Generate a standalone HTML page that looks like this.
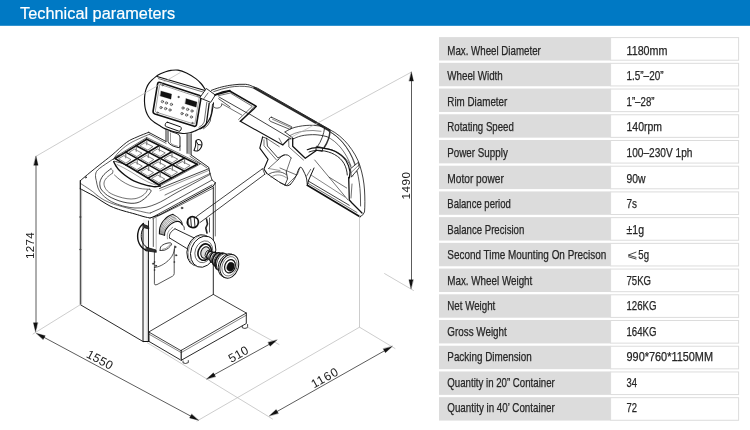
<!DOCTYPE html>
<html><head><meta charset="utf-8"><title>Technical parameters</title>
<style>
html,body{margin:0;padding:0;background:#fff;}
body{width:750px;height:430px;overflow:hidden;font-family:"Liberation Sans",sans-serif;}
svg{display:block;will-change:transform;}
text{font-family:"Liberation Sans",sans-serif;}
</style></head><body>
<svg width="750" height="430" viewBox="0 0 750 430">
<rect x="0" y="0" width="750" height="430" fill="#ffffff"/>
<rect x="0" y="0" width="750" height="25.8" fill="#0079c4"/>
<text x="20.1" y="19.1" font-size="16.6" fill="#ffffff" stroke="#ffffff" stroke-width="0.2" textLength="155" lengthAdjust="spacingAndGlyphs">Technical parameters</text>

<g id="table">
<rect x="439" y="37.10" width="171.6" height="23.4" fill="#dcdcdc"/>
<rect x="610.6" y="37.60" width="128" height="22.6" fill="#ffffff" stroke="#dcdcdc" stroke-width="1"/>
<text x="447.3" y="55" font-size="12.4" fill="#262626" stroke="#262626" stroke-width="0.25" textLength="93.5" lengthAdjust="spacingAndGlyphs">Max. Wheel Diameter</text>
<text x="626.5" y="55" font-size="12.4" fill="#262626" stroke="#262626" stroke-width="0.25" textLength="41" lengthAdjust="spacingAndGlyphs">1180mm</text>
<rect x="439" y="62.82" width="171.6" height="23.4" fill="#dcdcdc"/>
<rect x="610.6" y="63.32" width="128" height="22.6" fill="#ffffff" stroke="#dcdcdc" stroke-width="1"/>
<text x="447.3" y="80" font-size="12.4" fill="#262626" stroke="#262626" stroke-width="0.25" textLength="55.5" lengthAdjust="spacingAndGlyphs">Wheel Width</text>
<text x="626.5" y="80" font-size="12.4" fill="#262626" stroke="#262626" stroke-width="0.25" textLength="37" lengthAdjust="spacingAndGlyphs">1.5”–20”</text>
<rect x="439" y="88.54" width="171.6" height="23.4" fill="#dcdcdc"/>
<rect x="610.6" y="89.04" width="128" height="22.6" fill="#ffffff" stroke="#dcdcdc" stroke-width="1"/>
<text x="447.3" y="106" font-size="12.4" fill="#262626" stroke="#262626" stroke-width="0.25" textLength="60" lengthAdjust="spacingAndGlyphs">Rim Diameter</text>
<text x="626.5" y="106" font-size="12.4" fill="#262626" stroke="#262626" stroke-width="0.25" textLength="28" lengthAdjust="spacingAndGlyphs">1”–28”</text>
<rect x="439" y="114.26" width="171.6" height="23.4" fill="#dcdcdc"/>
<rect x="610.6" y="114.76" width="128" height="22.6" fill="#ffffff" stroke="#dcdcdc" stroke-width="1"/>
<text x="447.3" y="131" font-size="12.4" fill="#262626" stroke="#262626" stroke-width="0.25" textLength="66.5" lengthAdjust="spacingAndGlyphs">Rotating Speed</text>
<text x="626.5" y="131" font-size="12.4" fill="#262626" stroke="#262626" stroke-width="0.25" textLength="35.5" lengthAdjust="spacingAndGlyphs">140rpm</text>
<rect x="439" y="139.98" width="171.6" height="23.4" fill="#dcdcdc"/>
<rect x="610.6" y="140.48" width="128" height="22.6" fill="#ffffff" stroke="#dcdcdc" stroke-width="1"/>
<text x="447.3" y="157" font-size="12.4" fill="#262626" stroke="#262626" stroke-width="0.25" textLength="60.5" lengthAdjust="spacingAndGlyphs">Power Supply</text>
<text x="626.5" y="157" font-size="12.4" fill="#262626" stroke="#262626" stroke-width="0.25" textLength="66" lengthAdjust="spacingAndGlyphs">100–230V 1ph</text>
<rect x="439" y="165.70" width="171.6" height="23.4" fill="#dcdcdc"/>
<rect x="610.6" y="166.20" width="128" height="22.6" fill="#ffffff" stroke="#dcdcdc" stroke-width="1"/>
<text x="447.3" y="183" font-size="12.4" fill="#262626" stroke="#262626" stroke-width="0.25" textLength="56.5" lengthAdjust="spacingAndGlyphs">Motor power</text>
<text x="626.5" y="183" font-size="12.4" fill="#262626" stroke="#262626" stroke-width="0.25" textLength="19" lengthAdjust="spacingAndGlyphs">90w</text>
<rect x="439" y="191.42" width="171.6" height="23.4" fill="#dcdcdc"/>
<rect x="610.6" y="191.92" width="128" height="22.6" fill="#ffffff" stroke="#dcdcdc" stroke-width="1"/>
<text x="447.3" y="208" font-size="12.4" fill="#262626" stroke="#262626" stroke-width="0.25" textLength="63.5" lengthAdjust="spacingAndGlyphs">Balance period</text>
<text x="626.5" y="208" font-size="12.4" fill="#262626" stroke="#262626" stroke-width="0.25" textLength="10.5" lengthAdjust="spacingAndGlyphs">7s</text>
<rect x="439" y="217.14" width="171.6" height="23.4" fill="#dcdcdc"/>
<rect x="610.6" y="217.64" width="128" height="22.6" fill="#ffffff" stroke="#dcdcdc" stroke-width="1"/>
<text x="447.3" y="234" font-size="12.4" fill="#262626" stroke="#262626" stroke-width="0.25" textLength="77" lengthAdjust="spacingAndGlyphs">Balance Precision</text>
<text x="626.5" y="234" font-size="12.4" fill="#262626" stroke="#262626" stroke-width="0.25" textLength="17.5" lengthAdjust="spacingAndGlyphs">±1g</text>
<rect x="439" y="242.86" width="171.6" height="23.4" fill="#dcdcdc"/>
<rect x="610.6" y="243.36" width="128" height="22.6" fill="#ffffff" stroke="#dcdcdc" stroke-width="1"/>
<text x="447.3" y="259" font-size="12.4" fill="#262626" stroke="#262626" stroke-width="0.25" textLength="159" lengthAdjust="spacingAndGlyphs">Second Time Mounting On Precison</text>
<path d="M636.4 252.00 L628.2 255.10 L636.4 257.50 M628.2 256.70 L636.4 259.10" fill="none" stroke="#333" stroke-width="0.9"/>
<text x="638.3" y="259" font-size="12.4" fill="#262626" stroke="#262626" stroke-width="0.25" textLength="10.7" lengthAdjust="spacingAndGlyphs">5g</text>
<rect x="439" y="268.58" width="171.6" height="23.4" fill="#dcdcdc"/>
<rect x="610.6" y="269.08" width="128" height="22.6" fill="#ffffff" stroke="#dcdcdc" stroke-width="1"/>
<text x="447.3" y="285" font-size="12.4" fill="#262626" stroke="#262626" stroke-width="0.25" textLength="85" lengthAdjust="spacingAndGlyphs">Max. Wheel Weight</text>
<text x="626.5" y="285" font-size="12.4" fill="#262626" stroke="#262626" stroke-width="0.25" textLength="24.5" lengthAdjust="spacingAndGlyphs">75KG</text>
<rect x="439" y="294.30" width="171.6" height="23.4" fill="#dcdcdc"/>
<rect x="610.6" y="294.80" width="128" height="22.6" fill="#ffffff" stroke="#dcdcdc" stroke-width="1"/>
<text x="447.3" y="310" font-size="12.4" fill="#262626" stroke="#262626" stroke-width="0.25" textLength="48" lengthAdjust="spacingAndGlyphs">Net Weight</text>
<text x="626.5" y="310" font-size="12.4" fill="#262626" stroke="#262626" stroke-width="0.25" textLength="30" lengthAdjust="spacingAndGlyphs">126KG</text>
<rect x="439" y="320.02" width="171.6" height="23.4" fill="#dcdcdc"/>
<rect x="610.6" y="320.52" width="128" height="22.6" fill="#ffffff" stroke="#dcdcdc" stroke-width="1"/>
<text x="447.3" y="336" font-size="12.4" fill="#262626" stroke="#262626" stroke-width="0.25" textLength="59.5" lengthAdjust="spacingAndGlyphs">Gross Weight</text>
<text x="626.5" y="336" font-size="12.4" fill="#262626" stroke="#262626" stroke-width="0.25" textLength="30" lengthAdjust="spacingAndGlyphs">164KG</text>
<rect x="439" y="345.74" width="171.6" height="23.4" fill="#dcdcdc"/>
<rect x="610.6" y="346.24" width="128" height="22.6" fill="#ffffff" stroke="#dcdcdc" stroke-width="1"/>
<text x="447.3" y="361" font-size="12.4" fill="#262626" stroke="#262626" stroke-width="0.25" textLength="84.5" lengthAdjust="spacingAndGlyphs">Packing Dimension</text>
<text x="626.5" y="361" font-size="12.4" fill="#262626" stroke="#262626" stroke-width="0.25" textLength="86.5" lengthAdjust="spacingAndGlyphs">990*760*1150MM</text>
<rect x="439" y="371.46" width="171.6" height="23.4" fill="#dcdcdc"/>
<rect x="610.6" y="371.96" width="128" height="22.6" fill="#ffffff" stroke="#dcdcdc" stroke-width="1"/>
<text x="447.3" y="387" font-size="12.4" fill="#262626" stroke="#262626" stroke-width="0.25" textLength="107.5" lengthAdjust="spacingAndGlyphs">Quantity in 20” Container</text>
<text x="626.5" y="387" font-size="12.4" fill="#262626" stroke="#262626" stroke-width="0.25" textLength="10.5" lengthAdjust="spacingAndGlyphs">34</text>
<rect x="439" y="397.18" width="171.6" height="23.4" fill="#dcdcdc"/>
<rect x="610.6" y="397.68" width="128" height="22.6" fill="#ffffff" stroke="#dcdcdc" stroke-width="1"/>
<text x="447.3" y="412" font-size="12.4" fill="#262626" stroke="#262626" stroke-width="0.25" textLength="107.5" lengthAdjust="spacingAndGlyphs">Quantity in 40’ Container</text>
<text x="626.5" y="412" font-size="12.4" fill="#262626" stroke="#262626" stroke-width="0.25" textLength="10.5" lengthAdjust="spacingAndGlyphs">72</text>
</g>
<g id="drawing" fill="none" stroke-linejoin="round" stroke-linecap="round">
<path d="M205.1 89.2 C204.42 88.25 202.55 85.27 201 83.5 C199.45 81.73 198.22 80.35 195.8 78.6 C193.38 76.85 189.47 74.42 186.5 73 C183.53 71.58 180.58 70.53 178 70.1 C175.42 69.67 173.07 70.13 171 70.4 C168.93 70.67 167.35 71.13 165.6 71.7 C163.85 72.27 162.12 72.98 160.5 73.8 C158.88 74.62 157.35 75.53 155.9 76.6 C154.45 77.67 153.02 78.98 151.8 80.2 C150.58 81.42 149.48 82.6 148.6 83.9 C147.72 85.2 147.05 86.65 146.5 88 C145.95 89.35 145.62 90.5 145.3 92 C144.98 93.5 144.73 95.37 144.6 97 C144.47 98.63 144.43 100.13 144.5 101.8 C144.57 103.47 144.73 105.38 145 107 C145.27 108.62 145.57 110 146.1 111.5 C146.63 113 147.38 114.63 148.2 116 C149.02 117.37 149.87 118.57 151 119.7 C152.13 120.83 153.65 121.87 155 122.8 C156.35 123.73 157.47 124.33 159.1 125.3 C160.73 126.27 162.48 127.57 164.8 128.6 C167.12 129.63 170 130.68 173 131.5 C176 132.32 179.97 133.28 182.8 133.5 C185.63 133.72 187.83 133.28 190 132.8 C192.17 132.32 193.97 131.4 195.8 130.6 C197.63 129.8 199.45 128.92 201 128 C202.55 127.08 203.85 126.27 205.1 125.1 C206.35 123.93 207.42 122.85 208.5 121 C209.58 119.15 210.77 117.03 211.6 114 C212.43 110.97 213.18 104.67 213.5 102.8" stroke-width="1.15" fill="#fff" stroke="#111" />
<path d="M157 76.5 L205 90.5" stroke-width="1.3" fill="none" stroke="#111" />
<path d="M158.5 78.6 L203 92" stroke-width="0.6" fill="none" stroke="#111" />
<path d="M160 82.4 L199.5 95.5 Q201.3 96.1 201 98 L196.5 124.5 Q196 127 193.5 126.1 L155 114 Q152.7 113.2 153.1 111 L157.6 83.8 Q158 81.8 160 82.4 Z" stroke-width="1.6" fill="none" stroke="#111" />
<path d="M160.8 84.6 L198 97 Q199.2 97.4 199 98.6 L195 123 Q194.8 124.3 193.5 123.9 L156.3 112.2 Q155.2 111.8 155.4 110.7 L159.5 85.5 Q159.7 84.2 160.8 84.6 Z" stroke-width="0.5" fill="none" stroke="#444" />
<path d="M161 91 L171.6 94 L171 99.2 L160.2 96 Z" stroke-width="0.2" fill="#111" stroke="#111" />
<path d="M186 98.6 L197 102 L196.2 107.2 L185.2 103.8 Z" stroke-width="0.2" fill="#111" stroke="#111" />
<circle cx="178.6" cy="97" r="0.9" stroke-width="0.2" fill="#555" stroke="#111"/>
<circle cx="162.4" cy="101.6" r="1.2" stroke-width="0.6" fill="#ccc" stroke="#333"/>
<circle cx="166.4" cy="103" r="1.2" stroke-width="0.6" fill="#ccc" stroke="#333"/>
<circle cx="171.4" cy="104.4" r="1.2" stroke-width="0.6" fill="#ccc" stroke="#333"/>
<circle cx="161" cy="107.6" r="1.2" stroke-width="0.6" fill="#ccc" stroke="#333"/>
<circle cx="165.6" cy="108.6" r="1.2" stroke-width="0.6" fill="#ccc" stroke="#333"/>
<circle cx="170" cy="110" r="1.2" stroke-width="0.6" fill="#ccc" stroke="#333"/>
<circle cx="183" cy="108" r="1.2" stroke-width="0.6" fill="#ccc" stroke="#333"/>
<circle cx="187.6" cy="109.4" r="1.2" stroke-width="0.6" fill="#ccc" stroke="#333"/>
<circle cx="192" cy="111" r="1.2" stroke-width="0.6" fill="#ccc" stroke="#333"/>
<circle cx="182" cy="113.6" r="1.2" stroke-width="0.6" fill="#ccc" stroke="#333"/>
<circle cx="186.6" cy="115" r="1.2" stroke-width="0.6" fill="#ccc" stroke="#333"/>
<circle cx="191.4" cy="117" r="1.2" stroke-width="0.6" fill="#ccc" stroke="#333"/>
<circle cx="162.6" cy="85.2" r="0.7" stroke-width="0.5" fill="#aaa" stroke="#333"/>
<circle cx="198" cy="95.8" r="0.7" stroke-width="0.5" fill="#aaa" stroke="#333"/>
<circle cx="157.6" cy="112.6" r="0.7" stroke-width="0.5" fill="#aaa" stroke="#333"/>
<circle cx="192.4" cy="123" r="0.7" stroke-width="0.5" fill="#aaa" stroke="#333"/>
<rect x="165" y="124.4" width="16.5" height="4.6" rx="1.6" transform="rotate(19.5 173.2 126.7)" stroke-width="0.9" stroke="#111" fill="none"/>
<g id="arm" fill="none" stroke="#111" stroke-width="0.9" stroke-linejoin="round" stroke-linecap="round">
<path d="M209.2 103.2 L206.5 123 Q205 127 200 128.8" stroke-width="1.3"/>
<path d="M206.8 102.3 L204.2 122 Q203 125.5 199 127.3" stroke-width="0.6"/>
<path d="M212.5 104.4 L210.3 121 Q208.8 125.5 203.5 128.8" stroke-width="0.7"/>
<path d="M199.9 97.5 L206.4 88.5 L215.3 95 L210.9 102 Z" fill="#fff" stroke-width="0.9"/>
<path d="M203.5 99.1 L208 93" stroke-width="0.6"/>
<path d="M218.6 98.7 L230 106.9 M213.7 106.9 Q215 108.3 217 108.2 L219.4 107.7 Q222 106.5 221.9 104.4" stroke-width="0.7"/>
<path d="M211.3 90.4 C216 88.6 219 87.6 221.7 87 C226 86 229 85.4 232.3 85 C237 84.3 241 84.1 245.7 84.3 C248.5 84.6 250.5 85.4 252.3 86.3 L257.7 88.3 L330 129.7" stroke-width="0.9"/>
<path d="M254.5 88 L329 130.3" stroke-width="2.2" stroke="#2a2a2a"/>
<path d="M215.3 94.6 C219 92.8 224 91 230 90.4" stroke-width="1.3"/>
<path d="M213.7 91.6 C219 89.8 224 88.3 229.7 87.2 C236 86.1 243 85.9 249 86.9 L254.5 88.4" stroke-width="0.7"/>
<path d="M329.5 129.5 C337 133 343.5 139 348 144.5 C353.5 151.500 357.500 158 360 166 C362.500 174 364 182 364.500 190 C365 198 365 206 364.500 212 Q363 216 360 216.700" stroke-width="0.8"/>
<path d="M331 132.3 C337 136 342 141 346 146.500 C351 153.500 355 162 357 170" stroke-width="0.6"/>
<path d="M357.1 171.3 C358.8 178 360 186 360.4 195 L360.6 206" stroke-width="0.7"/>
<path d="M215 95 L229.700 91 L256.300 106.300 L253.700 109 L240.300 121.300" stroke-width="1.500"/>
<path d="M218.300 95.700 L230.300 93 L252.300 106.300 L238.600 119.500" stroke-width="0.6"/>
<path d="M255 105.500 L241 121.600" stroke-width="0.6"/>
<path d="M219 97 L248.300 113.700" stroke-width="0.8"/>
<path d="M221.700 103.700 L241.700 115" stroke-width="0.6"/>
<path d="M240.300 121.300 L282.700 145 L288.700 139 L291 138.700" stroke-width="1.100"/>
<path d="M248.300 113.300 L291 138.700" stroke-width="0.8"/>
<path d="M279 138.200 L282.700 145" stroke-width="0.6"/>
<path d="M271.700 117.300 L291.700 126.700 Q292.500 128.500 289.700 129.300 L270.300 121.300 Q268.200 119.500 269.700 118 Q270.500 117 271.700 117.300 Z" stroke-width="0.7"/>
<path d="M272.500 119.300 L290.500 127.500" stroke-width="0.5"/>
<path d="M285 132 C288 130 291 128.500 295 127.300 C300 126 305 125.400 309.700 125.300 C314 125.300 318 125.600 322.500 126.500" stroke-width="0.8"/>
<path d="M293.700 138.700 C297 137 300 136 304.300 135.300 C308 134.800 312 134.600 315 134.700 C319 134.900 322.500 135.500 327 136.700" stroke-width="0.8"/>
<path d="M285 132 L293.700 138.700" stroke-width="0.8"/>
<path d="M290 135.500 C296 132 304 130.500 313 130.500 L321 131.300" stroke-width="0.5"/>
<path d="M292.700 138.300 L292.700 146.300 L305.300 158.300 L316.700 150.300" stroke-width="1.300"/>
<path d="M288.700 139.700 L288.900 147 L303.500 160" stroke-width="0.6"/>
<path d="M324.6 128 C323.8 134 321.5 141 317.5 146.500" stroke-width="0.8"/>
<path d="M330 130.7 C329.8 136 327.5 142.5 324.2 147.500" stroke-width="1.5" stroke="#333"/>
<path d="M316.700 146.300 L322.700 147.700 L322.300 151.500 L316.200 150.200 Z" stroke-width="0.8"/>
<path d="M307.300 149.700 C311 148 315 147.400 319.300 147.700 C325 148.300 331 149.500 335.300 151.500 C340 154 343.500 157 346 160.500 C348.500 164.500 349.500 168 350 172 L349.300 178" stroke-width="1.2"/>
<path d="M309 152 C313 150.500 317 150 321 150.500 C326 151 331 152.500 334.500 154.500 C339 157 342 160 344 163.500 C346 167 347 171 347.300 175" stroke-width="0.9"/>
<path d="M323 147.900 C329 148.800 334 150.300 338 152.500 C343 155.500 347 159.500 349.500 164 C351.500 168 352.500 172 352.800 176" stroke-width="0.6"/>
<path d="M328.700 131.200 C334 134 339 138 343 143 C348 149 352 156 354.500 164 L356.700 172" stroke-width="0.6"/>
<path d="M327 136.700 C332 139 337 143 341 148 C345 153 348.500 159 351 166" stroke-width="0.6"/>
<path d="M307.300 185.300 L360 216.700" stroke-width="1.600"/>
<path d="M308 183.300 L357 212.500" stroke-width="0.6"/>
<path d="M308.700 181.300 L349.300 205.300" stroke-width="0.8"/>
<path d="M307.300 185.300 L308.700 180 L314 168" stroke-width="1"/>
<path d="M314.700 160 L348 200" stroke-width="0.6"/>
<path d="M329.300 177.300 L346.700 188" stroke-width="0.6"/>
<path d="M311 175 L345 197" stroke-width="0.5"/>
<path d="M348.700 177.300 L349.300 200 L352 203 L362 213" stroke-width="1.300"/>
<path d="M352 184 L351 198" stroke-width="0.6"/>
<path d="M350.8 168.5 L358.5 162.2 L359.2 167.8 L351.5 176.9 Z" stroke-width="0.8" fill="#fff"/>
<path d="M351.2 172.5 L358.9 165" stroke-width="0.5"/>
</g>

<path d="M166 129.5 L166 141.5" stroke-width="0.9" fill="none" stroke="#111" />
<path d="M168 131 L168 141.5 Q168.5 144 173 146 L178 147.6 Q180 148 180 146 L180 137 Q180 135 177 133.6 L170 131.2" stroke-width="0.9" fill="none" stroke="#111" />
<path d="M170.5 133 L170.5 142.5 Q171 144 174 145.2 L177.5 146.2" stroke-width="0.5" fill="none" stroke="#333" />
<path d="M180 146 L180 150.5" stroke-width="0.7" fill="none" stroke="#111" />
<path d="M187 134 L191.2 134 L191.2 155 L187 153.3 Z" fill="#bbb" stroke="none"/>
<path d="M187 134 L187 153.3" stroke-width="0.8" fill="none" stroke="#111" />
<path d="M191.2 133.6 L191.2 155" stroke-width="0.8" fill="none" stroke="#111" />
<path d="M189 134 L189 154" stroke-width="0.4" fill="none" stroke="#555" />
<path d="M194 150.5 C194.25 149.75 195.17 147.58 195.5 146 C195.83 144.42 195.5 142.08 196 141 C196.5 139.92 197.67 139.5 198.5 139.5 C199.33 139.5 200.42 140.17 201 141 C201.58 141.83 202.08 143.25 202 144.5 C201.92 145.75 201.25 147.42 200.5 148.5 C199.75 149.58 198.58 150.67 197.5 151 C196.42 151.33 194.58 150.58 194 150.5" stroke-width="1.1" fill="none" stroke="#111" />
<path d="M196 141 L198 144.5 L201.5 145" stroke-width="1.0" fill="none" stroke="#111" />
<path d="M198 144.5 L197.5 150.5" stroke-width="0.6" fill="none" stroke="#111" />
<path d="M148.7 132.3 C146.75 133.08 140.67 135.33 137 137 C133.33 138.67 130.87 139.3 126.7 142.3 C122.53 145.3 116.45 151.3 112 155 C107.55 158.7 103.67 161.58 100 164.5 C96.33 167.42 93.28 169.8 90 172.5 C86.72 175.2 81.92 179.33 80.3 180.7" stroke-width="0.9" fill="none" stroke="#111" />
<path d="M149.3 134.3 C147.42 135.12 141.55 137.5 138 139.2 C134.45 140.9 131.33 142.2 128 144.5 C124.67 146.8 120.45 150.47 118 153 C115.55 155.53 114.08 158.58 113.3 159.7" stroke-width="0.6" fill="none" stroke="#111" />
<path d="M148.7 132.3 L166 141.5" stroke-width="0.9" fill="none" stroke="#111" />
<path d="M191.2 155 L208.7 167.3 L210 173.5" stroke-width="0.9" fill="none" stroke="#111" />
<path d="M149.3 134.3 L166 143.3" stroke-width="0.6" fill="none" stroke="#111" />
<path d="M190 156.3 L207 168" stroke-width="0.6" fill="none" stroke="#111" />
<path d="M146.7 139.2 L115.2 158.6" stroke-width="1.6" fill="none" stroke="#111" />
<path d="M159.32 145.47 L126.12 165.12" stroke-width="1.6" fill="none" stroke="#111" />
<path d="M171.95 151.75 L137.05 171.65" stroke-width="1.6" fill="none" stroke="#111" />
<path d="M184.57 158.03 L147.98 178.17" stroke-width="1.6" fill="none" stroke="#111" />
<path d="M197.2 164.3 L158.9 184.7" stroke-width="1.6" fill="none" stroke="#111" />
<path d="M146.7 139.2 L197.2 164.3" stroke-width="1.6" fill="none" stroke="#111" />
<path d="M136.2 145.67 L184.43 171.1" stroke-width="1.6" fill="none" stroke="#111" />
<path d="M125.7 152.13 L171.67 177.9" stroke-width="1.6" fill="none" stroke="#111" />
<path d="M115.2 158.6 L158.9 184.7" stroke-width="1.6" fill="none" stroke="#111" />
<path d="M145.4 142.79 L152.86 146.57 L147.87 150.09 L140.1 146.03 Z" stroke-width="0.6" fill="none" stroke="#333" />
<path d="M146.78 140.51 L146.78 144.71" stroke-width="1.1" fill="none" stroke="#777" />
<path d="M134.79 149.27 L141.9 153.11 L136.89 156.63 L129.48 152.51 Z" stroke-width="0.6" fill="none" stroke="#333" />
<path d="M136.26 146.98 L136.26 151.18" stroke-width="1.1" fill="none" stroke="#777" />
<path d="M124.18 155.76 L130.95 159.64 L125.91 163.17 L118.87 159 Z" stroke-width="0.6" fill="none" stroke="#333" />
<path d="M125.74 153.45 L125.74 157.65" stroke-width="1.1" fill="none" stroke="#777" />
<path d="M157.83 149.09 L165.28 152.88 L160 156.44 L152.24 152.38 Z" stroke-width="0.6" fill="none" stroke="#333" />
<path d="M159.39 146.79 L159.39 150.99" stroke-width="1.1" fill="none" stroke="#777" />
<path d="M146.65 155.66 L153.76 159.49 L148.46 163.06 L141.06 158.94 Z" stroke-width="0.6" fill="none" stroke="#333" />
<path d="M148.3 153.34 L148.3 157.54" stroke-width="1.1" fill="none" stroke="#777" />
<path d="M135.47 162.23 L142.24 166.11 L136.92 169.68 L129.88 165.51 Z" stroke-width="0.6" fill="none" stroke="#333" />
<path d="M137.21 159.89 L137.21 164.09" stroke-width="1.1" fill="none" stroke="#777" />
<path d="M170.25 155.4 L177.7 159.18 L172.14 162.79 L164.37 158.72 Z" stroke-width="0.6" fill="none" stroke="#333" />
<path d="M171.99 153.07 L171.99 157.27" stroke-width="1.1" fill="none" stroke="#777" />
<path d="M158.5 162.05 L165.61 165.88 L160.03 169.49 L152.63 165.37 Z" stroke-width="0.6" fill="none" stroke="#333" />
<path d="M160.33 159.7 L160.33 163.9" stroke-width="1.1" fill="none" stroke="#777" />
<path d="M146.75 168.7 L153.53 172.58 L147.92 176.19 L140.88 172.02 Z" stroke-width="0.6" fill="none" stroke="#333" />
<path d="M148.68 166.34 L148.68 170.54" stroke-width="1.1" fill="none" stroke="#777" />
<path d="M182.67 161.7 L190.12 165.49 L184.28 169.13 L176.51 165.07 Z" stroke-width="0.6" fill="none" stroke="#333" />
<path d="M184.59 159.34 L184.59 163.54" stroke-width="1.1" fill="none" stroke="#777" />
<path d="M170.35 168.44 L177.47 172.27 L171.6 175.92 L164.2 171.8 Z" stroke-width="0.6" fill="none" stroke="#333" />
<path d="M172.37 166.06 L172.37 170.26" stroke-width="1.1" fill="none" stroke="#777" />
<path d="M158.04 175.17 L164.81 179.05 L158.93 182.71 L151.88 178.54 Z" stroke-width="0.6" fill="none" stroke="#333" />
<path d="M160.15 172.78 L160.15 176.98" stroke-width="1.1" fill="none" stroke="#777" />
<path d="M113.7 161.7 C114.08 162.42 115.12 164.62 116 166 C116.88 167.38 117.5 168.45 119 170 C120.5 171.55 123 173.75 125 175.3 C127 176.85 128.92 178.13 131 179.3 C133.08 180.47 135.28 181.4 137.5 182.3 C139.72 183.2 142.22 184.08 144.3 184.7 C146.38 185.32 148.22 185.67 150 186 C151.78 186.33 153.28 186.7 155 186.7 C156.72 186.7 159.42 186.12 160.3 186" stroke-width="1.4" fill="none" stroke="#111" />
<path d="M114.5 161.3 C115.58 161.58 118.7 162.22 121 163 C123.3 163.78 125.97 164.83 128.3 166 C130.63 167.17 132.77 168.67 135 170 C137.23 171.33 139.45 172.55 141.7 174 C143.95 175.45 146.28 177.15 148.5 178.7 C150.72 180.25 153.03 182.08 155 183.3 C156.97 184.52 159.42 185.55 160.3 186" stroke-width="0.8" fill="none" stroke="#111" />
<path d="M117 164.5 C118.17 165.08 121.5 166.67 124 168 C126.5 169.33 129.33 170.92 132 172.5 C134.67 174.08 137.33 175.92 140 177.5 C142.67 179.08 145.33 180.75 148 182 C150.67 183.25 154.67 184.5 156 185" stroke-width="0.5" fill="none" stroke="#444" />
<path d="M208.7 168.7 L159.5 188.5" stroke-width="0.8" fill="none" stroke="#111" />
<path d="M209 170.3 L160 190.6" stroke-width="0.5" fill="none" stroke="#333" />
<path d="M210 173.5 L165 195" stroke-width="0.6" fill="none" stroke="#111" />
<path d="M111 168.7 C109.83 169.67 105.78 172.5 104 174.5 C102.22 176.5 100.97 178.78 100.3 180.7 C99.63 182.62 99.77 184.45 100 186 C100.23 187.55 100.45 188.42 101.7 190 C102.95 191.58 105.28 193.95 107.5 195.5 C109.72 197.05 112.42 198.22 115 199.3 C117.58 200.38 120.33 201.33 123 202 C125.67 202.67 128.67 203.17 131 203.3 C133.33 203.43 135.22 203.23 137 202.8 C138.78 202.37 140.03 201.75 141.7 200.7 C143.37 199.65 145.45 198.07 147 196.5 C148.55 194.93 150.55 192.5 151 191.3 C151.45 190.1 149.92 189.63 149.7 189.3" stroke-width="0.8" fill="none" stroke="#111" />
<path d="M112.3 173.3 C111.33 174.08 107.88 176.38 106.5 178 C105.12 179.62 104.17 181.25 104 183 C103.83 184.75 104.5 186.83 105.5 188.5 C106.5 190.17 107.92 191.67 110 193 C112.08 194.33 115.17 195.55 118 196.5 C120.83 197.45 124.17 198.33 127 198.7 C129.83 199.07 132.5 199.15 135 198.7 C137.5 198.25 140.17 197.03 142 196 C143.83 194.97 145.12 193.5 146 192.5 C146.88 191.5 147.08 190.42 147.3 190" stroke-width="0.6" fill="none" stroke="#111" />
<path d="M111 168.7 C111.33 169.08 112.78 170.23 113 171 C113.22 171.77 112.42 172.92 112.3 173.3" stroke-width="0.6" fill="none" stroke="#111" />
<path d="M149.7 189.3 C148.08 189.17 143.28 189.13 140 188.5 C136.72 187.87 133.17 186.83 130 185.5 C126.83 184.17 123.58 182.25 121 180.5 C118.42 178.75 115.58 175.92 114.5 175" stroke-width="0.6" fill="none" stroke="#111" />
<path d="M119 155.3 C117.17 156.5 111.55 160.05 108 162.5 C104.45 164.95 99.78 167.83 97.7 170 C95.62 172.17 95.73 173.72 95.5 175.5 C95.27 177.28 95.88 178.62 96.3 180.7 C96.72 182.78 97.1 185.78 98 188 C98.9 190.22 100.03 192.08 101.7 194 C103.37 195.92 105.78 197.95 108 199.5 C110.22 201.05 112.17 202.13 115 203.3 C117.83 204.47 121.67 205.72 125 206.5 C128.33 207.28 131.5 207.87 135 208 C138.5 208.13 142.5 207.97 146 207.3 C149.5 206.63 152.83 205.3 156 204 C159.17 202.7 161.67 201.33 165 199.5 C168.33 197.67 171.83 195.33 176 193 C180.17 190.67 184.33 188.58 190 185.5 C195.67 182.42 206.67 176.33 210 174.5" stroke-width="0.7" fill="none" stroke="#111" />
<path d="M80.3 180.7 L80.3 188.7" stroke-width="1.2" fill="none" stroke="#111" />
<path d="M80.3 183.3 C81.25 183.92 84 185.67 86 187 C88 188.33 90.47 189.92 92.3 191.3 C94.13 192.68 96.22 194.63 97 195.3" stroke-width="0.6" fill="none" stroke="#111" />
<path d="M80.3 188.7 C81.42 189.3 84.72 191.08 87 192.3 C89.28 193.52 91.5 194.5 94 196 C96.5 197.5 99.33 199.63 102 201.3 C104.67 202.97 107.5 204.75 110 206 C112.5 207.25 114.67 207.97 117 208.8 C119.33 209.63 121 210.13 124 211 C127 211.87 131.67 213.05 135 214 C138.33 214.95 141.5 216.03 144 216.7 C146.5 217.37 149 217.78 150 218" stroke-width="1.0" fill="none" stroke="#111" />
<path d="M97 195.3 C98.17 196.08 101.5 198.63 104 200 C106.5 201.37 109.33 202.5 112 203.5 C114.67 204.5 116.5 205 120 206 C123.5 207 128.55 208.38 133 209.5 C137.45 210.62 143.82 212.12 146.7 212.7 C149.58 213.28 149.7 212.95 150.3 213" stroke-width="0.6" fill="none" stroke="#111" />
<circle cx="85.7" cy="177.3" r="0.8" stroke-width="0.5" fill="#888" stroke="#111"/>
<path d="M150 218 L160 214.7 L178.7 204.7 L213.3 186 L215.3 182.7" stroke-width="1.0" fill="none" stroke="#111" />
<path d="M150.3 213 L160 208.7 L178.7 198.5 L212 180" stroke-width="0.7" fill="none" stroke="#111" />
<path d="M153 217 L178.7 203 L212 185" stroke-width="0.8" fill="none" stroke="#111" />
<path d="M152.7 218.7 L178.7 206 L213.3 188" stroke-width="0.6" fill="none" stroke="#111" />
<path d="M210 173.5 L212 180 L215.3 182.7" stroke-width="0.8" fill="none" stroke="#111" />
<circle cx="182" cy="208" r="0.9" stroke-width="0.5" fill="#777" stroke="#111"/>
<path d="M80.3 188.7 L80.3 304.7 L143 341.5" stroke-width="0.9" fill="none" stroke="#111" />
<path d="M81.6 190 L81.6 304.2" stroke-width="0.4" fill="none" stroke="#555" />
<path d="M143 219 L148.4 220 L148.4 341.5 L143 341.5 Z" fill="#f4f4f4" stroke="none"/>
<path d="M143 225 L143 341.5 L148.4 341.5" stroke-width="1.0" fill="none" stroke="#111" />
<path d="M147.3 250 L147.3 340.5" stroke-width="0.5" fill="none" stroke="#888" />
<path d="M148.5 221 L148.5 341.5" stroke-width="0.9" fill="none" stroke="#111" />
<path d="M153.3 219 L153.3 246.5" stroke-width="0.7" fill="none" stroke="#111" />
<path d="M156.2 218 L156.2 250" stroke-width="0.5" fill="none" stroke="#666" />
<path d="M213.3 187 L213.3 294.4" stroke-width="0.9" fill="none" stroke="#111" />
<path d="M215.3 183 L215.3 236" stroke-width="0.6" fill="none" stroke="#111" />
<path d="M149.1 331.8 L213.3 294.4 L246.3 313 L181.2 350.4 Z" stroke-width="0.8" fill="none" stroke="#111" />
<path d="M149.1 334.2 L181.2 352.6 L246.3 315.2" stroke-width="0.6" fill="none" stroke="#333" />
<path d="M181.2 350.4 L181.2 360.3" stroke-width="1.1" fill="none" stroke="#111" />
<path d="M246.3 313 L246.3 323.5 L181.2 360.3" stroke-width="0.9" fill="none" stroke="#111" />
<path d="M149.1 341.5 L180 359.6" stroke-width="0.9" fill="none" stroke="#111" />
<path d="M149.1 331.8 L149.1 341.5" stroke-width="0.8" fill="none" stroke="#111" />
<path d="M183 361 L183 362.8 Q185.5 364.3 188.3 362.6 L188.3 360.6" stroke-width="0.8" fill="none" stroke="#111" />
<path d="M242.3 326.2 L242.3 327.8 Q244.8 329.2 247.6 327.6 L247.6 324.5" stroke-width="0.8" fill="none" stroke="#111" />
<path d="M143.4 223.5 C142.75 224.25 140.43 226.3 139.5 228 C138.57 229.7 138.08 231.87 137.8 233.7 C137.52 235.53 137.57 237.37 137.8 239 C138.03 240.63 138.5 242.08 139.2 243.5 C139.9 244.92 140.83 246.35 142 247.5 C143.17 248.65 145.5 249.92 146.2 250.4" stroke-width="1.4" fill="none" stroke="#111" />
<path d="M145.2 226 C144.72 226.67 142.95 228.6 142.3 230 C141.65 231.4 141.43 232.9 141.3 234.4 C141.17 235.9 141.27 237.6 141.5 239 C141.73 240.4 142.12 241.67 142.7 242.8 C143.28 243.93 144.18 244.98 145 245.8 C145.82 246.62 147.17 247.38 147.6 247.7" stroke-width="1.0" fill="none" stroke="#111" />
<path d="M143.2 224.2 L148.5 226.3 L148.8 229 L144.5 227.8 Z" stroke-width="0.8" fill="#333" stroke="#111" />
<path d="M146.5 247.3 L156 250 L156.3 252.3 L146 250.8 Z" stroke-width="0.8" fill="#333" stroke="#111" />
<path d="M159.4 233.8 C159.43 233.08 159.42 230.82 159.6 229.5 C159.78 228.18 160.07 227.07 160.5 225.9 C160.93 224.73 161.52 223.55 162.2 222.5 C162.88 221.45 163.8 220.47 164.6 219.6 C165.4 218.73 166.12 217.98 167 217.3 C167.88 216.62 168.9 215.98 169.9 215.5 C170.9 215.02 172.48 214.58 173 214.4 L181.4 221.2 L178 221.4 L178 221.4 L175.1 221.7 L172.5 223 L169.9 224.9 L167.5 227.3 L165.7 230.1 L164.8 232.5 L164.6 235.3 Z" fill="#fff" stroke="none"/>
<path d="M159.4 233.8 C159.43 233.08 159.42 230.82 159.6 229.5 C159.78 228.18 160.07 227.07 160.5 225.9 C160.93 224.73 161.52 223.55 162.2 222.5 C162.88 221.45 163.8 220.47 164.6 219.6 C165.4 218.73 166.12 217.98 167 217.3 C167.88 216.62 168.9 215.98 169.9 215.5 C170.9 215.02 172.48 214.58 173 214.4" stroke-width="1.1" fill="none" stroke="#111" />
<path d="M164.6 235.3 C164.63 234.83 164.62 233.37 164.8 232.5 C164.98 231.63 165.25 230.97 165.7 230.1 C166.15 229.23 166.8 228.17 167.5 227.3 C168.2 226.43 169.07 225.62 169.9 224.9 C170.73 224.18 171.63 223.53 172.5 223 C173.37 222.47 174.18 221.97 175.1 221.7 C176.02 221.43 177.13 221.3 178 221.4 C178.87 221.5 179.67 221.83 180.3 222.3 C180.93 222.77 181.55 223.88 181.8 224.2" stroke-width="1.1" fill="none" stroke="#111" />
<path d="M160.44 234.1 C160.47 233.43 160.46 231.33 160.64 230.1 C160.82 228.87 161.1 227.85 161.54 226.74 C161.98 225.63 162.57 224.47 163.26 223.46 C163.95 222.45 164.85 221.5 165.66 220.66 C166.47 219.82 167.22 219.09 168.1 218.44 C168.98 217.79 169.96 217.18 170.94 216.74 C171.92 216.3 173.49 215.96 174 215.8" stroke-width="0.55" fill="none" stroke="#333" />
<path d="M161.48 234.4 C161.51 233.78 161.5 231.84 161.68 230.7 C161.86 229.56 162.14 228.63 162.58 227.58 C163.02 226.53 163.63 225.4 164.32 224.42 C165.01 223.44 165.91 222.53 166.72 221.72 C167.53 220.91 168.32 220.2 169.2 219.58 C170.08 218.96 171.01 218.38 171.98 217.98 C172.95 217.58 174.5 217.33 175 217.2" stroke-width="0.55" fill="none" stroke="#333" />
<path d="M162.52 234.7 C162.55 234.13 162.54 232.35 162.72 231.3 C162.9 230.25 163.18 229.41 163.62 228.42 C164.06 227.43 164.69 226.32 165.38 225.38 C166.07 224.44 166.96 223.56 167.78 222.78 C168.6 222 169.43 221.31 170.3 220.72 C171.17 220.13 172.07 219.57 173.02 219.22 C173.97 218.87 175.5 218.7 176 218.6" stroke-width="0.55" fill="none" stroke="#333" />
<path d="M163.56 235 C163.59 234.48 163.58 232.86 163.76 231.9 C163.94 230.94 164.21 230.19 164.66 229.26 C165.11 228.33 165.74 227.24 166.44 226.34 C167.14 225.44 168.01 224.59 168.84 223.84 C169.67 223.09 170.53 222.42 171.4 221.86 C172.27 221.3 173.13 220.77 174.06 220.46 C174.99 220.15 176.51 220.08 177 220" stroke-width="0.55" fill="none" stroke="#333" />
<path d="M173 214.4 C173.75 214.88 176.1 216.17 177.5 217.3 C178.9 218.43 180.58 219.93 181.4 221.2 C182.22 222.47 182.23 224.28 182.4 224.9" stroke-width="0.9" fill="none" stroke="#111" />
<path d="M159.4 233.8 L164.6 235.3" stroke-width="0.8" fill="none" stroke="#111" />
<path d="M182.4 224.9 C182.67 225.22 183.68 226.03 184 226.8 C184.32 227.57 184.25 229.05 184.3 229.5" stroke-width="0.8" fill="none" stroke="#111" />
<path d="M175 228.8 L193.8 237.8 L187.5 248.9 L169.6 238 Q168 233 175 228.8 Z" fill="#fff" stroke="none"/>
<path d="M175 228.8 L193.8 237.8" stroke-width="0.9" fill="none" stroke="#111" />
<path d="M169.6 238 L187.5 248.9" stroke-width="0.9" fill="none" stroke="#111" />
<path d="M175 228.8 C174.42 229.25 172.42 230.47 171.5 231.5 C170.58 232.53 169.82 233.92 169.5 235 C169.18 236.08 169.58 237.5 169.6 238" stroke-width="0.8" fill="none" stroke="#111" />
<path d="M172.8 227.2 C172.2 227.75 170.12 229.23 169.2 230.5 C168.28 231.77 167.58 233.42 167.3 234.8 C167.02 236.18 167.47 238.13 167.5 238.8" stroke-width="0.5" fill="none" stroke="#333" />
<path d="M174.7 246 C174.62 246.83 174.68 249.27 174.2 251 C173.72 252.73 172.83 254.77 171.8 256.4 C170.77 258.03 169.38 259.5 168 260.8 C166.62 262.1 165 263.27 163.5 264.2 C162 265.13 160.52 265.83 159 266.4 C157.48 266.97 155.17 267.4 154.4 267.6" stroke-width="0.7" fill="none" stroke="#111" />
<path d="M160.1 250.4 C160.18 249.83 160.13 247.92 160.6 247 C161.07 246.08 162 245.48 162.9 244.9 C163.8 244.32 164.83 243.85 166 243.5 C167.17 243.15 168.98 242.78 169.9 242.8 C170.82 242.82 171.27 243.25 171.5 243.6 C171.73 243.95 171.8 244.17 171.3 244.9 C170.8 245.63 169.63 247.12 168.5 248 C167.37 248.88 165.9 249.8 164.5 250.2 C163.1 250.6 160.83 250.37 160.1 250.4" stroke-width="0.8" fill="none" stroke="#111" />
<path d="M162.5 249.3 C163 249.17 164.5 249 165.5 248.5 C166.5 248 167.7 247 168.5 246.3 C169.3 245.6 170 244.63 170.3 244.3" stroke-width="0.5" fill="none" stroke="#333" />
<circle cx="175.3" cy="247" r="0.7" stroke-width="0.5" fill="#666" stroke="#111"/>
<circle cx="176.1" cy="255.3" r="0.7" stroke-width="0.5" fill="#666" stroke="#111"/>
<circle cx="153.1" cy="263.7" r="0.7" stroke-width="0.5" fill="#666" stroke="#111"/>
<circle cx="155.9" cy="265.8" r="0.7" stroke-width="0.5" fill="#666" stroke="#111"/>
<path d="M174.2 249 L174.2 273.5 Q174.2 275.3 172.5 276.2 L157 284.6 Q154.4 285.8 154.4 283.5 L154.4 252" stroke-width="0.7" fill="none" stroke="#111" />
<circle cx="154.4" cy="262" r="0.5" stroke-width="0.4" fill="#666" stroke="#111"/>
<circle cx="154.4" cy="270" r="0.5" stroke-width="0.4" fill="#666" stroke="#111"/>
<circle cx="174.2" cy="262" r="0.5" stroke-width="0.4" fill="#666" stroke="#111"/>
<path d="M196.5 216.5 L262.4 168.8" stroke-width="0.8" fill="none" stroke="#111" />
<path d="M199.8 222.7 L264.8 174.3" stroke-width="0.8" fill="none" stroke="#111" />
<path d="M187.9 219.4 C188.33 219 189.45 217.42 190.5 217 C191.55 216.58 193.03 216.58 194.2 216.9 C195.37 217.22 196.82 217.92 197.5 218.9 C198.18 219.88 198.45 221.57 198.3 222.8 C198.15 224.03 197.48 225.5 196.6 226.3 C195.72 227.1 194.23 227.6 193 227.6 C191.77 227.6 190.15 227.05 189.2 226.3 C188.25 225.55 187.52 224.25 187.3 223.1 C187.08 221.95 187.8 220.02 187.9 219.4" stroke-width="1.6" fill="#fff" stroke="#111" />
<path d="M190.6 217.4 L191.4 226.9" stroke-width="0.9" fill="none" stroke="#111" />
<path d="M194.2 217.2 L195 227" stroke-width="0.9" fill="none" stroke="#111" />
<path d="M187.9 219.6 L189.2 226.2" stroke-width="0.6" fill="none" stroke="#111" />
<ellipse cx="199.6" cy="250.3" rx="12.2" ry="16" transform="rotate(20 199.6 250.3)" stroke-width="0.9" fill="#fff" stroke="#111"/>
<ellipse cx="200.8" cy="250.8" rx="12.2" ry="16" transform="rotate(20 200.8 250.8)" stroke-width="0.5" fill="#fff" stroke="#444"/>
<ellipse cx="203.2" cy="251.7" rx="12.2" ry="16" transform="rotate(20 203.2 251.7)" stroke-width="0.9" fill="#fff" stroke="#111"/>
<ellipse cx="203.8" cy="251.8" rx="8.6" ry="11.2" transform="rotate(20 203.8 251.8)" stroke-width="0.6" fill="none" stroke="#222"/>
<ellipse cx="204.6" cy="252.1" rx="6.4" ry="8.4" transform="rotate(20 204.6 252.1)" stroke-width="1.6" fill="#fff" stroke="#111"/>
<ellipse cx="205.3" cy="252.5" rx="4.3" ry="5.8" transform="rotate(20 205.3 252.5)" stroke-width="1.0" fill="#ddd" stroke="#111"/>
<ellipse cx="207.61" cy="253.94" rx="2.23" ry="3.6" transform="rotate(22 207.61 253.94)" stroke-width="0.8" fill="#fff" stroke="#111"/>
<ellipse cx="209.61" cy="255.06" rx="2.48" ry="4" transform="rotate(22 209.61 255.06)" stroke-width="1.4" fill="#fff" stroke="#111"/>
<ellipse cx="211.71" cy="256.24" rx="2.73" ry="4.4" transform="rotate(22 211.71 256.24)" stroke-width="0.7" fill="#fff" stroke="#111"/>
<ellipse cx="213.45" cy="257.22" rx="3.22" ry="5.2" transform="rotate(22 213.45 257.22)" stroke-width="1.5" fill="#fff" stroke="#111"/>
<ellipse cx="215.46" cy="258.34" rx="3.6" ry="5.8" transform="rotate(22 215.46 258.34)" stroke-width="0.7" fill="#fff" stroke="#111"/>
<ellipse cx="217.2" cy="259.32" rx="4.22" ry="6.8" transform="rotate(22 217.2 259.32)" stroke-width="1.6" fill="#fff" stroke="#111"/>
<ellipse cx="219.21" cy="260.45" rx="4.71" ry="7.6" transform="rotate(22 219.21 260.45)" stroke-width="0.7" fill="#fff" stroke="#111"/>
<ellipse cx="220.95" cy="261.43" rx="5.33" ry="8.6" transform="rotate(22 220.95 261.43)" stroke-width="1.7" fill="#fff" stroke="#111"/>
<ellipse cx="222.87" cy="262.51" rx="5.83" ry="9.4" transform="rotate(22 222.87 262.51)" stroke-width="0.8" fill="#fff" stroke="#111"/>
<ellipse cx="227.6" cy="265.6" rx="9" ry="12.2" transform="rotate(20 227.6 265.6)" stroke-width="0.9" fill="#fff" stroke="#111"/>
<ellipse cx="229.3" cy="266.3" rx="9" ry="12.2" transform="rotate(20 229.3 266.3)" stroke-width="1.0" fill="#fff" stroke="#111"/>
<ellipse cx="229.5" cy="266.3" rx="7.3" ry="10" transform="rotate(20 229.5 266.3)" stroke-width="0.6" fill="none" stroke="#333"/>
<ellipse cx="230" cy="266.3" rx="5.2" ry="6.8" transform="rotate(20 230 266.3)" stroke-width="1.2" fill="#fff" stroke="#111"/>
<ellipse cx="230.6" cy="266.7" rx="3.5" ry="4.5" transform="rotate(20 230.6 266.7)" stroke-width="0.5" fill="#111" stroke="#111"/>
<path d="M262.6 137 L259.8 148.1 L268.1 159.3 L263.9 169 L266.7 173.2" stroke-width="1.1" fill="none" stroke="#111" />
<path d="M266.7 173.2 C267.63 173.9 270.33 176.02 272.3 177.4 C274.27 178.78 276.4 180.22 278.5 181.5 C280.6 182.78 283.32 184.42 284.9 185.1 C286.48 185.78 287.08 185.72 288 185.6 C288.92 185.48 290 184.6 290.4 184.4" stroke-width="1.0" fill="none" stroke="#111" />
<path d="M290.4 184.4 C290.92 183.75 292.57 181.9 293.5 180.5 C294.43 179.1 295.32 177.42 296 176 C296.68 174.58 297.13 173.17 297.6 172 C298.07 170.83 298.37 169.75 298.8 169 C299.23 168.25 299.73 167.72 300.2 167.5 C300.67 167.28 301.05 167.12 301.6 167.7 C302.15 168.28 302.8 169.62 303.5 171 C304.2 172.38 305.25 174.5 305.8 176 C306.35 177.5 306.57 178.6 306.8 180 C307.03 181.4 307.13 183.67 307.2 184.4" stroke-width="0.9" fill="none" stroke="#111" />
<path d="M266.7 138.4 L267.4 146 L277.9 157.9 L284.2 155.1" stroke-width="0.8" fill="none" stroke="#111" />
<path d="M264 139.8 L264 145.8 L276.5 160" stroke-width="0.6" fill="none" stroke="#111" />
<path d="M266.7 138.4 L279.3 146.7" stroke-width="0.6" fill="none" stroke="#111" />
<path d="M262.6 137 L266.7 138.4" stroke-width="0.8" fill="none" stroke="#111" />
<path d="M277.9 160 C278.33 159.53 279.57 158.02 280.5 157.2 C281.43 156.38 282.3 155.45 283.5 155.1 C284.7 154.75 286.43 154.63 287.7 155.1 C288.97 155.57 290.53 157.43 291.1 157.9" stroke-width="0.9" fill="none" stroke="#111" />
<path d="M291.1 157.9 L286.3 171.8" stroke-width="0.6" fill="none" stroke="#111" />
<path d="M268.1 174.6 C268.83 174.25 270.87 172.97 272.5 172.5 C274.13 172.03 276.23 171.78 277.9 171.8 C279.57 171.82 281.1 172.13 282.5 172.6 C283.9 173.07 285.67 174.27 286.3 174.6" stroke-width="0.7" fill="none" stroke="#111" />
<path d="M271 177 C271.67 176.72 273.58 175.63 275 175.3 C276.42 174.97 278 174.83 279.5 175 C281 175.17 282.67 175.7 284 176.3 C285.33 176.9 286.92 178.22 287.5 178.6" stroke-width="0.5" fill="none" stroke="#333" />
<path d="M277.9 160 L268.5 168.5" stroke-width="0.6" fill="none" stroke="#111" />
<path d="M268.5 168.5 L280 170.5" stroke-width="0.5" fill="none" stroke="#333" />
<path d="M286.3 171.8 L287.6 178.8 L284.9 185.1" stroke-width="0.8" fill="none" stroke="#111" />
<path d="M262.4 168.8 L263.5 170.8 L264.8 174.3" stroke-width="0.7" fill="none" stroke="#111" />
<path d="M280 168 L296 174.7" stroke-width="0.6" fill="none" stroke="#111" />
<path d="M280 182.7 L286.7 185.3 L297.3 174.7 L300 167.3" stroke-width="0.6" fill="none" stroke="#111" />
<path d="M310.7 169.3 L306.7 176" stroke-width="0.6" fill="none" stroke="#111" />
<path d="M206.5 219 L207.5 224 L205.8 228 L207 233" stroke-width="1.6" fill="none" stroke="#222" />
<path d="M209.5 218 L209.5 232" stroke-width="0.7" fill="none" stroke="#111" />
<circle cx="80.3" cy="217" r="0.7" stroke-width="0.4" fill="#444" stroke="#444"/>
<circle cx="80.3" cy="249.5" r="0.7" stroke-width="0.4" fill="#444" stroke="#444"/>
<path d="M146.75 137.48 L200.39 163.91 L159.14 186.29" stroke-width="0.6" fill="none" stroke="#111" />
<path d="M146.75 137.48 L114.93 157.17" stroke-width="0.6" fill="none" stroke="#111" />
<path d="M36 156.3 L180.2 72.6" stroke-width="0.7" fill="none" stroke="#b8b8b8" />
<path d="M80.3 304.7 L33 334" stroke-width="0.7" fill="none" stroke="#b8b8b8" />
<path d="M147.4 342.8 L272.5 419" stroke-width="0.7" fill="none" stroke="#b8b8b8" />
<path d="M247.6 327.2 L279 344.5" stroke-width="0.7" fill="none" stroke="#b8b8b8" />
<path d="M359.5 215 L359.5 327.2 L197 421" stroke-width="0.7" fill="none" stroke="#b8b8b8" />
<path d="M359.5 327.2 L395 348.5" stroke-width="0.7" fill="none" stroke="#b8b8b8" />
<path d="M290 138 L411.4 72.1" stroke-width="0.7" fill="none" stroke="#b8b8b8" />
<path d="M384.6 273.6 L413.5 290.5" stroke-width="0.7" fill="none" stroke="#b8b8b8" />
<path d="M36 160 L36 328" stroke-width="0.9" fill="none" stroke="#4a4a4a" />
<path d="M411.5 76 L411.5 285" stroke-width="0.9" fill="none" stroke="#4a4a4a" />
<path d="M40 335.2 L195 418.4" stroke-width="0.9" fill="none" stroke="#4a4a4a" />
<path d="M210 377 L273.5 342" stroke-width="0.9" fill="none" stroke="#4a4a4a" />
<path d="M273 413.8 L388.7 348.4" stroke-width="0.9" fill="none" stroke="#4a4a4a" />
<path d="M36 156.3 L38.1 165.3 L33.9 165.3 Z" stroke-width="0.3" fill="#111" stroke="#111" />
<path d="M35.5 331.7 L33.4 322.7 L37.6 322.7 Z" stroke-width="0.3" fill="#111" stroke="#111" />
<path d="M411.4 72.1 L413.5 81.1 L409.3 81.1 Z" stroke-width="0.3" fill="#111" stroke="#111" />
<path d="M411 288.7 L408.9 279.7 L413.1 279.7 Z" stroke-width="0.3" fill="#111" stroke="#111" />
<path d="M36.3 333.3 L45.22 335.7 L43.24 339.4 Z" stroke-width="0.3" fill="#111" stroke="#111" />
<path d="M198.5 420.3 L189.58 417.9 L191.56 414.2 Z" stroke-width="0.3" fill="#111" stroke="#111" />
<path d="M206.6 379 L213.46 372.8 L215.49 376.48 Z" stroke-width="0.3" fill="#111" stroke="#111" />
<path d="M277 340 L270.14 346.2 L268.11 342.52 Z" stroke-width="0.3" fill="#111" stroke="#111" />
<path d="M269.4 415.8 L276.2 409.54 L278.27 413.2 Z" stroke-width="0.3" fill="#111" stroke="#111" />
<path d="M392.2 346.4 L385.4 352.66 L383.33 349 Z" stroke-width="0.3" fill="#111" stroke="#111" />
<text x="34.2" y="245.5" font-size="11.6" fill="#1a1a1a" stroke="none" text-anchor="middle" letter-spacing="0.35" transform="rotate(-90 34.2 245.5)">1274</text>
<text x="409.6" y="185.5" font-size="11.6" fill="#1a1a1a" stroke="none" text-anchor="middle" letter-spacing="0.6" transform="rotate(-90 409.6 185.5)">1490</text>
<text x="98.0" y="363.4" font-size="12.1" fill="#1a1a1a" stroke="none" text-anchor="middle" letter-spacing="0.3" transform="rotate(28.2 98.0 363.4)">1550</text>
<text x="240.5" y="357.8" font-size="12.1" fill="#1a1a1a" stroke="none" text-anchor="middle" letter-spacing="0.3" transform="rotate(-29 240.5 357.8)">510</text>
<text x="326.9" y="381.2" font-size="12.1" fill="#1a1a1a" stroke="none" text-anchor="middle" letter-spacing="0.9" transform="rotate(-29.5 326.9 381.2)">1160</text>
</g>
</svg></body></html>
